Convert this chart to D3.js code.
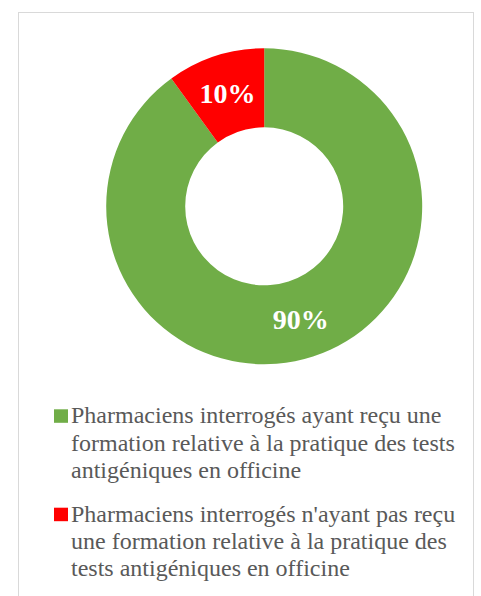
<!DOCTYPE html>
<html>
<head>
<meta charset="utf-8">
<script src="https://cdn.jsdelivr.net/npm/d3@7"></script>
<style>
  html, body { margin: 0; padding: 0; background: #fff; }
  svg { display: block; }
  .serif { font-family: "Liberation Serif", "Times New Roman", Tinos, "DejaVu Serif", serif; }
</style>
</head>
<body>
<svg id="chart" width="481" height="596"></svg>
<script>
// Répartition des pharmaciens interrogés selon la formation reçue
const categories = [
  "Pharmaciens interrogés ayant reçu une formation relative à la pratique des tests antigéniques en officine",
  "Pharmaciens interrogés n'ayant pas reçu une formation relative à la pratique des tests antigéniques en officine"
];
const values = [90, 10];
const valueLabels = ["90%", "10%"];
const colors = ["#70AD47", "#FF0000"];

const svg = d3.select("#chart");
const W = 481, H = 596;

// chart frame
svg.append("rect")
  .attr("x", 18.5).attr("y", 12.5)
  .attr("width", 455).attr("height", H)
  .attr("fill", "#fff").attr("stroke", "#d9d9d9").attr("stroke-width", 1);

const cx = 264.2, cy = 206.3, rOuter = 158, rInner = 79;

const pie = d3.pie().sort(null).value(d => d);
const arcs = pie(values);
const arc = d3.arc().innerRadius(rInner).outerRadius(rOuter);

const g = svg.append("g").attr("transform", `translate(${cx},${cy})`);
g.selectAll("path.slice")
  .data(arcs)
  .join("path")
  .attr("class", "slice")
  .attr("d", arc)
  .attr("fill", (d, i) => colors[i]);

g.selectAll("text.val")
  .data(arcs)
  .join("text")
  .attr("class", "val serif")
  .attr("transform", d => `translate(${arc.centroid(d)})`)
  .attr("text-anchor", "middle")
  .attr("dy", "0.35em")
  .style("font-weight", "bold")
  .style("font-size", "28px")
  .attr("fill", "#fff")
  .text((d, i) => valueLabels[i]);

// legend with wrapped entries
const legendX = 54, textX = 71, maxW = 390, lineH = 27.3;
const legendTop = [423.3, 521.7];

const leg = svg.append("g");
categories.forEach((c, i) => {
  const base = legendTop[i];
  leg.append("rect")
    .attr("x", legendX).attr("y", base - 14)
    .attr("width", 14).attr("height", 13.5)
    .attr("fill", colors[i]);
  const t = leg.append("text")
    .attr("class", "serif")
    .style("font-size", "24px")
    .attr("fill", "#595959");
  // greedy word wrap measured on the rendered tspan
  const words = c.split(" ");
  let line = [], j = 0;
  let ts = t.append("tspan").attr("x", textX).attr("y", base);
  words.forEach(w => {
    line.push(w);
    ts.text(line.join(" "));
    if (ts.node().getComputedTextLength() > maxW && line.length > 1) {
      line.pop();
      ts.text(line.join(" "));
      line = [w];
      j++;
      ts = t.append("tspan").attr("x", textX).attr("y", base + j * lineH).text(w);
    }
  });
});
</script>
</body>
</html>
